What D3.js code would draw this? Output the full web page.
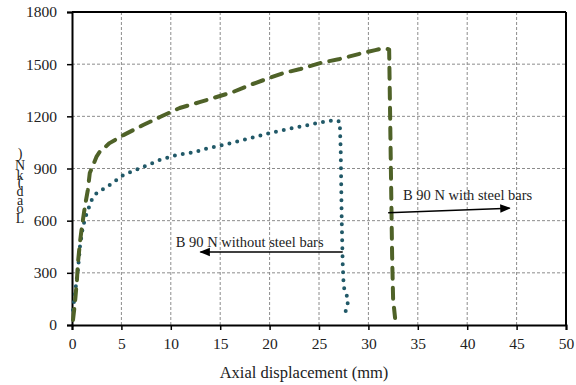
<!DOCTYPE html>
<html>
<head>
<meta charset="utf-8">
<script src="https://cdn.jsdelivr.net/npm/d3@7"></script>
<style>
  body { margin: 0; background: #fff; }
  svg text { font-family: 'Liberation Serif', 'Times New Roman', Times, serif !important; }
</style>
</head>
<body>
<div id="chart"></div>
<script>
// axial displacement (mm) / load (kN)
const withBarsX = [0.1, 0.3, 0.5, 0.6, 0.8, 1.0, 1.3, 1.6, 1.8, 2.5, 2.8, 3.8, 5.2, 7.2, 8.9, 10.9, 13, 14.3, 16.3, 18, 19.7, 21.4, 23.1, 25.1, 27.1, 29, 30.7, 31.5, 32.1, 32.2, 32.3, 32.4, 32.5, 32.7];
const withBarsY = [29, 127, 259, 357, 472, 564, 679, 776, 874, 970, 995, 1046, 1092, 1150, 1196, 1248, 1283, 1305, 1340, 1380, 1415, 1449, 1472, 1506, 1530, 1558, 1581, 1592, 1585, 1200, 800, 400, 150, 40];

const withoutBarsX = [0.1, 0.3, 0.6, 0.8, 1.1, 1.5, 2.0, 2.5, 3.8, 4.5, 5.2, 7.2, 8.9, 10.6, 12.6, 13, 15.3, 17.7, 20, 22.4, 24.9, 26.6, 27.1, 27.2, 27.3, 27.4, 27.5, 27.8, 28.0, 27.8, 27.7];
const withoutBarsY = [86, 184, 316, 449, 564, 644, 719, 759, 805, 834, 862, 909, 949, 978, 995, 1006, 1035, 1069, 1104, 1133, 1162, 1179, 1170, 1000, 600, 350, 220, 170, 140, 110, 80];

const xTicks = [0, 5, 10, 15, 20, 25, 30, 35, 40, 45, 50];
const yTicks = [0, 300, 600, 900, 1200, 1500, 1800];

const labelWith = 'B 90 N with steel bars';
const labelWithout = 'B 90 N without steel bars';
const xTitle = 'Axial displacement (mm)';
const yTitle = 'Load (kN)';

const width = 576, height = 385;
const margin = { top: 12, right: 10, bottom: 60, left: 72 };
const serif = "'Liberation Serif', 'Times New Roman', Times, serif";

const svg = d3.select('#chart').append('svg')
  .attr('width', width)
  .attr('height', height)
  .attr('font-family', serif);

const x = d3.scaleLinear().domain([0, 50]).range([margin.left, width - margin.right]);
const y = d3.scaleLinear().domain([0, 1800]).range([height - margin.bottom, margin.top]);

// grid
svg.append('g').selectAll('line')
  .data(xTicks.slice(1, -1))
  .enter().append('line')
  .attr('x1', d => x(d)).attr('x2', d => x(d))
  .attr('y1', y(0)).attr('y2', y(1800))
  .attr('stroke', '#8c8c8c').attr('stroke-width', 1)
  .attr('stroke-dasharray', '3,2');

svg.append('g').selectAll('line')
  .data(yTicks.slice(1, -1))
  .enter().append('line')
  .attr('x1', x(0)).attr('x2', x(50))
  .attr('y1', d => y(d)).attr('y2', d => y(d))
  .attr('stroke', '#8c8c8c').attr('stroke-width', 1)
  .attr('stroke-dasharray', '3,2');

// axes
const xAxis = svg.append('g')
  .attr('transform', `translate(0,${y(0)})`)
  .call(d3.axisBottom(x).tickValues(xTicks).tickFormat(d3.format('d')).tickSize(5).tickPadding(8));
const yAxis = svg.append('g')
  .attr('transform', `translate(${x(0)},0)`)
  .call(d3.axisLeft(y).tickValues(yTicks).tickFormat(d3.format('d')).tickSize(5).tickPadding(10));

[xAxis, yAxis].forEach(a => {
  a.attr('font-family', serif).attr('font-size', 15.5);
  a.select('.domain').attr('stroke', '#000').attr('stroke-width', 2);
  a.selectAll('.tick line').attr('stroke', '#000').attr('stroke-width', 1.5);
  a.selectAll('.tick text').attr('fill', '#222');
});

// top & right border
svg.append('line')
  .attr('x1', x(0)).attr('x2', x(50)).attr('y1', y(1800)).attr('y2', y(1800))
  .attr('stroke', '#000').attr('stroke-width', 2);
svg.append('line')
  .attr('x1', x(50)).attr('x2', x(50)).attr('y1', y(1800)).attr('y2', y(0))
  .attr('stroke', '#000').attr('stroke-width', 2);

// series
const lineRaw = d3.line().x(d => x(d[0])).y(d => y(d[1]));

svg.append('path')
  .datum(withoutBarsX.map((v, i) => [v, withoutBarsY[i]]))
  .attr('d', lineRaw)
  .attr('fill', 'none')
  .attr('stroke', '#215968')
  .attr('stroke-width', 4)
  .attr('stroke-linecap', 'round')
  .attr('stroke-linejoin', 'round')
  .attr('stroke-dasharray', '0,8');

svg.append('path')
  .datum(withBarsX.map((v, i) => [v, withBarsY[i]]))
  .attr('d', lineRaw)
  .attr('fill', 'none')
  .attr('stroke', '#4f6228')
  .attr('stroke-width', 4)
  .attr('stroke-linecap', 'round')
  .attr('stroke-linejoin', 'round')
  .attr('stroke-dasharray', '11,9');

// annotations
svg.append('defs').append('marker')
  .attr('id', 'arrow')
  .attr('viewBox', '0 0 10 10')
  .attr('refX', 9).attr('refY', 5)
  .attr('markerWidth', 7).attr('markerHeight', 7)
  .attr('orient', 'auto-start-reverse')
  .append('path')
  .attr('d', 'M0,1 L10,5 L0,9 Z')
  .attr('fill', '#000');

svg.append('line')
  .attr('x1', x(32.0)).attr('y1', y(645))
  .attr('x2', x(44.3)).attr('y2', y(672))
  .attr('stroke', '#000').attr('stroke-width', 1.5)
  .attr('marker-end', 'url(#arrow)');
svg.append('text')
  .attr('x', x(33.5)).attr('y', y(720))
  .attr('font-size', 14.5).attr('fill', '#222')
  .text(labelWith);

svg.append('line')
  .attr('x1', x(27.4)).attr('y1', y(420))
  .attr('x2', x(13.0)).attr('y2', y(420))
  .attr('stroke', '#000').attr('stroke-width', 1.5)
  .attr('marker-end', 'url(#arrow)');
svg.append('text')
  .attr('x', x(10.5)).attr('y', y(448))
  .attr('font-size', 14.5).attr('fill', '#222')
  .text(labelWithout);

// axis titles
svg.append('text')
  .attr('x', 304)
  .attr('y', 378)
  .attr('text-anchor', 'middle')
  .attr('font-size', 16.5).attr('fill', '#222')
  .text(xTitle);

// y title: letters stacked upright from bottom
const yChars = yTitle.replace(' ', '').split('');
const yCharPos = [223, 213, 205, 196, 187, 180, 170, 158];
svg.append('g').selectAll('text')
  .data(yChars)
  .enter().append('text')
  .attr('x', 20)
  .attr('y', (d, i) => yCharPos[i])
  .attr('text-anchor', 'middle')
  .attr('font-size', 14).attr('fill', '#222')
  .text(d => d);
</script>
</body>
</html>
